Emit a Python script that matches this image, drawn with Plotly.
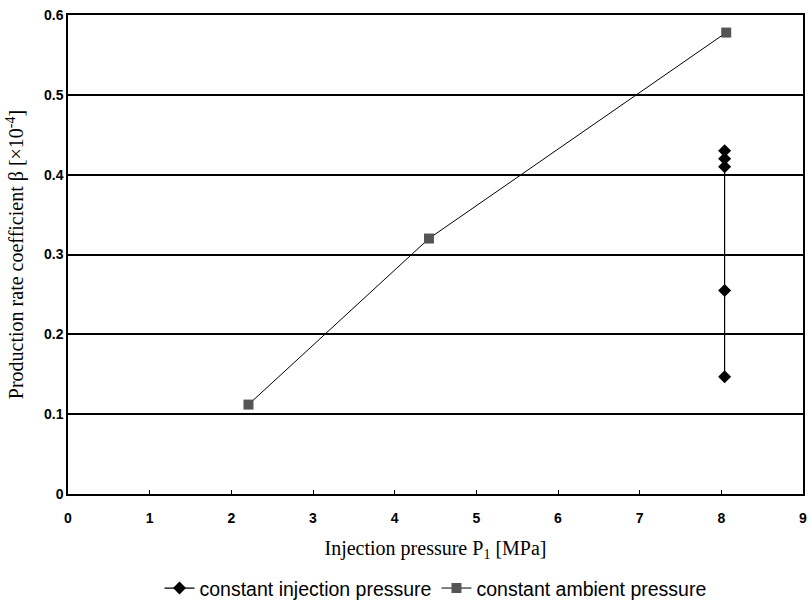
import plotly.graph_objects as go

# Data
inj_x = [8.04, 8.04, 8.04, 8.04, 8.04]
inj_y = [0.43, 0.42, 0.41, 0.255, 0.147]
amb_x = [2.21, 4.42, 8.06]
amb_y = [0.112, 0.32, 0.578]
x_ticks = [0, 1, 2, 3, 4, 5, 6, 7, 8, 9]
y_ticks = [0, 0.1, 0.2, 0.3, 0.4, 0.5, 0.6]
y_tick_text = ["0", "0.1", "0.2", "0.3", "0.4", "0.5", "0.6"]

fig = go.Figure()
fig.add_trace(go.Scatter(
    x=inj_x, y=inj_y, mode="lines+markers", name="constant injection pressure",
    line=dict(color="black", width=1.2),
    marker=dict(symbol="diamond", size=10, color="black"),
))
fig.add_trace(go.Scatter(
    x=amb_x, y=amb_y, mode="lines+markers", name="constant ambient pressure",
    line=dict(color="black", width=1),
    marker=dict(symbol="square", size=10, color="#555555"),
))

fig.update_layout(
    width=810, height=611,
    margin=dict(l=68, r=3, t=15, b=113),
    paper_bgcolor="white", plot_bgcolor="white",
    showlegend=True,
    legend=dict(orientation="h", x=0.5, xanchor="center", y=-0.197, yanchor="middle",
                font=dict(family="Liberation Sans, Arial", size=19.5, color="black"),
                itemwidth=30, tracegroupgap=0),
    xaxis=dict(
        range=[0, 9], tickmode="array", tickvals=x_ticks,
        ticks="inside", ticklen=4, tickcolor="black",
        showgrid=False, zeroline=False,
        showline=True, linecolor="black", linewidth=1.5, mirror=True,
        ticklabelstandoff=10,
        tickfont=dict(family="Liberation Sans, Arial", size=14, color="black", weight="bold"),
        title=dict(text="Injection pressure P<sub>1</sub> [MPa]",
                   font=dict(family="Liberation Serif, Times New Roman", size=20, color="black"),
                   standoff=16),
    ),
    yaxis=dict(
        range=[0, 0.6], tickmode="array", tickvals=y_ticks, ticktext=y_tick_text,
        ticks="", showgrid=True, gridcolor="black", gridwidth=1.5,
        zeroline=False,
        showline=True, linecolor="black", linewidth=1.5, mirror=True,
        tickfont=dict(family="Liberation Sans, Arial", size=14, color="black", weight="bold"),
        title=dict(text="Production rate coefficient β [×10<sup>-4</sup>]",
                   font=dict(family="Liberation Serif, Times New Roman", size=20, color="black"),
                   standoff=15),
    ),
)

fig.write_html("out.html")
